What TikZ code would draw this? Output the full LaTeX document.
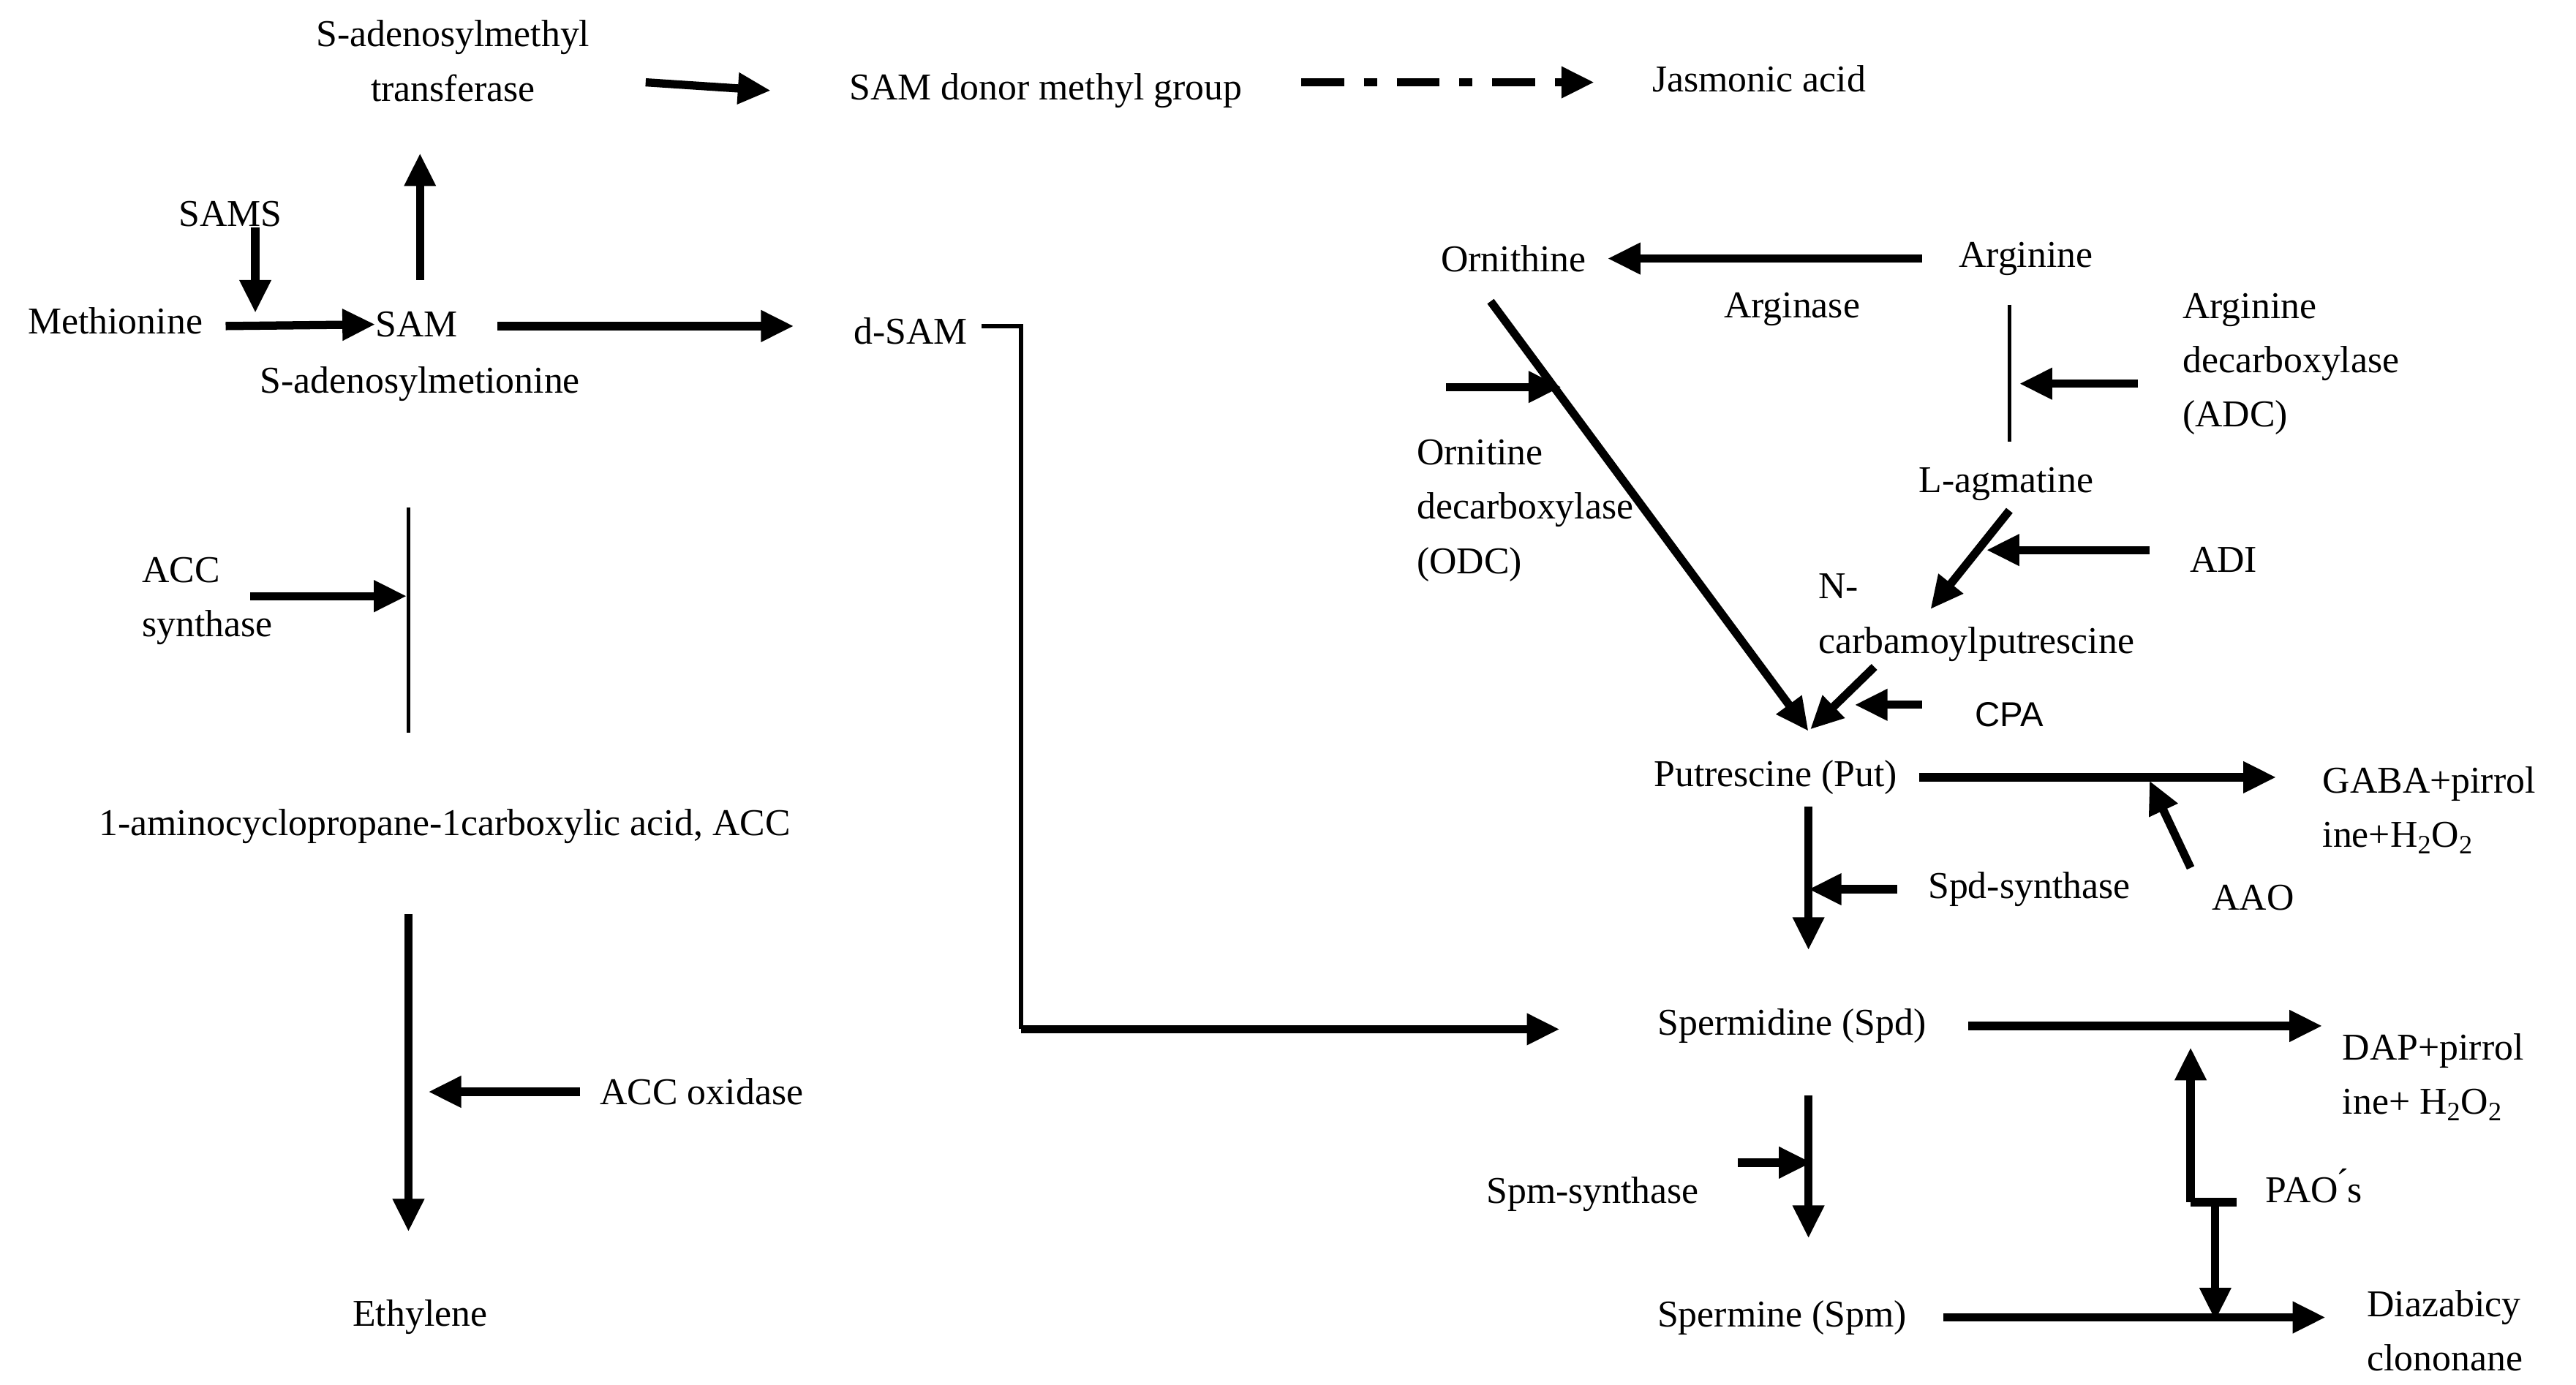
\documentclass[tikz,border=0pt]{standalone}
\usepackage{fontspec}
\setmainfont{Liberation Serif}
\newfontfamily\cpafont{Liberation Sans}
\usetikzlibrary{arrows.meta,positioning}
\begin{document}
\begin{tikzpicture}[x=1pt,y=-1pt,font=\fontsize{23}{33}\selectfont,
  every node/.style={inner sep=0pt},
  path/.style={line width=5pt,-{Triangle[length=20pt,width=18pt]}},
  thin/.style={line width=2.5pt}]
\useasboundingbox (0,0) rectangle (1564,841);

% Node: left branch
\node[align=center] (samt) at (275,37) {S-adenosylmethyl\\transferase};
\node (donor) at (635,55) {SAM donor methyl group};
\node (jas) at (1068,48) {Jasmonic acid};
\node (sams) at (140,130) {SAMS};
\node (met) at (70,195) {Methionine};
\node (sam) at (253,197) {SAM};
\node (samlong) at (255,233) {S-adenosylmetionine};
\node (dsam) at (553,201) {d-SAM};
\node[align=left] (accs) at (126,365) {ACC\\synthase};
\node (acc) at (270,502) {1-aminocyclopropane-1carboxylic acid, ACC};
\node (acco) at (426,663) {ACC oxidase};
\node (eth) at (255,800) {Ethylene};

% Node: right branch
\node (orn) at (919,157) {Ornithine};
\node (arg) at (1230,157) {Arginine};
\node (argase) at (1088,188) {Arginase};
\node[align=left,anchor=west] (adc) at (1325,221) {Arginine\\decarboxylase\\(ADC)};
\node[align=left,anchor=west] (odc) at (860,310) {Ornitine\\decarboxylase\\(ODC)};
\node (agm) at (1218,294) {L-agmatine};
\node (adi) at (1350,340) {ADI};
\node[align=left,anchor=west] (ncp) at (1104,375) {N-\\carbamoylputrescine};
\node[font=\cpafont\fontsize{21}{25}\selectfont] (cpa) at (1220,434) {CPA};
\node (put) at (1078,472) {Putrescine (Put)};
\node[align=left,anchor=west] (gaba) at (1410,492) {GABA+pirrol\\ine+H\textsubscript{2}O\textsubscript{2}};
\node (spds) at (1232,540) {Spd-synthase};
\node (aao) at (1368,545) {AAO};
\node (spd) at (1088,623) {Spermidine (Spd)};
\node[align=left,anchor=west] (dap) at (1422,654) {DAP+pirrol\\ine+ H\textsubscript{2}O\textsubscript{2}};
\node (spms) at (967,725) {Spm-synthase};
\node (pao) at (1405,720) {PAO\'{}s};
\node (spm) at (1082,800) {Spermine (Spm)};
\node[align=left,anchor=west] (diaz) at (1437,808) {Diazabicy\\clononane};

% Edges: left branch
\draw[path] (392,50) -- (468,55);
\draw[path,dash pattern=on 26pt off 12pt on 8pt off 12pt] (790,50) -- (968,50);
\draw[path] (155,138) -- (155,190);
\draw[path] (137,198) -- (sam.west);
\draw[path] (255,170) -- (255,93);
\draw[path] (302,198) -- (482,198);
\draw[thin] (596,198) -- (620,198) -- (620,625);
\draw[path] (620,625) -- (947,625);
\draw[thin] (248,308) -- (248,445);
\draw[path] (152,362) -- (247,362);
\draw[path] (248,555) -- (248,748);
\draw[path] (acco.west) ++(-12,0) -- (260,663);

% Edges: right branch
\draw[path] (1167,157) -- (976,157);
\draw[thin] (1220,185) -- (1220,268);
\draw[path] (1298,233) -- (1226,233);
\draw[path] (905,183) -- (1098,444);
\draw[path] (878,235) -- (948,235);
\draw[path] (1220,310) -- (1172,370);
\draw[path] (1305,334) -- (1206,334);
\draw[path] (1138,405) -- (1099,443);
\draw[path] (1167,428) -- (1126,428);
\draw[path] (1165,472) -- (1382,472);
\draw[path] (1330,527) -- (1305,474);
\draw[path] (1098,490) -- (1098,577);
\draw[path] (1152,540) -- (1098,540);
\draw[path] (1195,623) -- (1410,623);
\draw[path] (1098,665) -- (1098,752);
\draw[path] (1055,706) -- (1100,706);
\draw[path] (1180,800) -- (1412,800);
\draw[path] (1330,730) -- (1330,636);
\draw[line width=5pt] (1330,730) -- (1358,730);
\draw[path] (1345,730) -- (1345,802);
\end{tikzpicture}
\end{document}
